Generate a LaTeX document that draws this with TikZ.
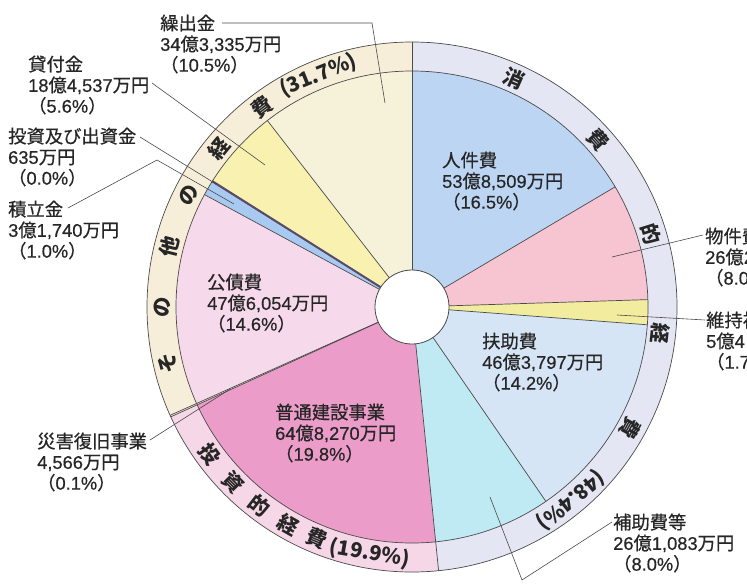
\documentclass[tikz,border=0pt]{standalone}
\usepackage{fontspec}
\newfontfamily\jp{Noto Sans CJK JP}[FakeBold=0.6]
\newfontfamily\latn{Liberation Sans}[FakeBold=0.5]
\newfontfamily\jpr{Noto Sans CJK JP}
\newcommand\J[1]{{\jp #1}}
\definecolor{cJinken}{HTML}{BCD5F3}
\definecolor{cBukken}{HTML}{F7C4D2}
\definecolor{cIji}{HTML}{F1EC9E}
\definecolor{cFujo}{HTML}{D6E5F5}
\definecolor{cHojo}{HTML}{BFEAF3}
\definecolor{cFutsu}{HTML}{EC9CC9}
\definecolor{cSaigai}{HTML}{F3E9D6}
\definecolor{cKousai}{HTML}{F6D9EA}
\definecolor{cTsumi}{HTML}{A8CAF0}
\definecolor{cKashi}{HTML}{F8F1B0}
\definecolor{cKuri}{HTML}{F6F2DA}
\definecolor{rShohi}{HTML}{E5E6F3}
\definecolor{rToushi}{HTML}{F6D7E7}
\definecolor{rSonota}{HTML}{F7EEDA}
\definecolor{cDark}{HTML}{5A4A6A}
\definecolor{cLine}{HTML}{4A4A4A}
\newcommand\mysl[3]{\fill[#3] (0,0) -- ({90-3.6*#1}:236) arc[start angle={90-3.6*#1}, end angle={90-3.6*#2}, radius=236] -- cycle;}
\newcommand\myring[3]{\fill[#3] ({90-3.6*#1}:265) arc[start angle={90-3.6*#1}, end angle={90-3.6*#2}, radius=265] -- ({90-3.6*#2}:236) arc[start angle={90-3.6*#2}, end angle={90-3.6*#1}, radius=236] -- cycle;}
\begin{document}
\begin{tikzpicture}[x=1pt,y=1pt,
  lbl/.style={font=\latn\fontsize{18.3}{20.8}\selectfont, align=left, anchor=west, inner sep=0pt, text=black!85},
  ringtxt/.style={font=\jpr\bfseries\fontsize{20.5}{20.5}\selectfont, inner sep=0pt, text=black!85},
  leader/.style={draw=cLine, line width=0.6pt},
  edgeln/.style={draw=cLine, line width=0.7pt}]
\useasboundingbox (0,0) rectangle (747,-587);
\fill[white] (0,0) rectangle (747,-587);
\begin{scope}[shift={(412,-307)}]
  % ring segments
  \myring{0}{48.4}{rShohi}
  \myring{48.4}{68.3}{rToushi}
  \myring{68.3}{100}{rSonota}
  % pie slices
  \mysl{0}{16.5}{cJinken}
  \mysl{16.5}{24.5}{cBukken}
  \mysl{24.5}{26.2}{cIji}
  \mysl{26.2}{40.4}{cFujo}
  \mysl{40.4}{48.4}{cHojo}
  \mysl{48.4}{68.2}{cFutsu}
  \mysl{68.2}{68.3}{cSaigai}
  \mysl{82.9}{83.9}{cTsumi}
  \mysl{68.3}{82.9}{cKousai}
  \mysl{83.9}{89.5}{cKashi}
  \mysl{89.5}{100}{cKuri}
  \fill[cSaigai] ({90-3.6*68.2}:236) -- ({90-3.6*68.2}:265) arc[start angle={90-3.6*68.2}, end angle={90-3.6*68.3}, radius=265] -- ({90-3.6*68.3}:236) -- cycle;
  % slice boundaries
  \foreach \c in {16.5,24.5,26.2,40.4,82.9,89.5}
    \draw[edgeln] ({90-3.6*\c}:37) -- ({90-3.6*\c}:236);
  \foreach \c in {0,48.4,68.2,68.3}
    \draw[edgeln] ({90-3.6*\c}:37) -- ({90-3.6*\c}:265);
  \draw[edgeln] ({90-3.6*83.9}:37) -- ({90-3.6*83.9}:236);
  \draw[cDark, line width=2pt] ({90-3.6*83.95}:37) -- ({90-3.6*83.95}:236);
  % circles
  \draw[edgeln] (0,0) circle[radius=236];
  \draw[edgeln] (0,0) circle[radius=265];
  \filldraw[fill=white, draw=cLine, line width=0.8pt] (0,0) circle[radius=37];
  % ring texts
  \foreach \t/\a [count=\i] in {消/24, 費/48, 的/73, 経/96, 費/119, (48.4\%)/140.6}
    \node[ringtxt, rotate=-\a] (sa\i) at ({90-\a}:250) {\t};
  \foreach \t/\a [count=\i] in {投/234, 資/225.5, 的/217.5, 経/209.6, 費/202.4, (19.9\%)/189.7}
    \node[ringtxt, rotate=180-\a] (ta\i) at ({90-\a}:250) {\t};
  \foreach \t/\a [count=\i] in {そ/257, の/270, 他/284, の/296.6, 経/309.4, 費/323, (31.7\%)/338}
    \node[ringtxt, rotate=-\a] (oa\i) at ({90-\a}:250) {\t};
  % leader end points inside slices
  \coordinate (kuriE) at (-27,204);
  \coordinate (kashiE) at (-147,142);
  \coordinate (toushiE) at ({90-3.6*83.92}:231);
  \coordinate (tsumiE) at (-178,103);
  \coordinate (saigaiE) at ({90-3.6*68.25}:200);
  \coordinate (hojoE) at (78,-190);
  \coordinate (bukkenE) at (200,50);
  \coordinate (ijiE) at (205,-8);
\end{scope}
% labels
\node[lbl] (kuri) at (160,-44) {\J{繰出金}\\34\J{億}3,335\J{万円}\\\J{（}10.5\%\J{）}};
\node[lbl] (kashi) at (28,-85) {\J{貸付金}\\18\J{億}4,537\J{万円}\\\J{（}5.6\%\J{）}};
\node[lbl] (toushi) at (8,-157) {\J{投資及び出資金}\\635\J{万円}\\\J{（}0.0\%\J{）}};
\node[lbl] (tsumi) at (8,-230) {\J{積立金}\\3\J{億}1,740\J{万円}\\\J{（}1.0\%\J{）}};
\node[lbl] (jinken) at (442,-181) {\J{人件費}\\53\J{億}8,509\J{万円}\\\J{（}16.5\%\J{）}};
\node[lbl] (bukken) at (705,-257) {\J{物件費}\\26\J{億}2\\\J{（}8.0};
\node[lbl] (iji) at (706,-341) {\J{維持補修費}\\5\J{億}4\\\J{（}1.7};
\node[lbl] (fujo) at (482,-362) {\J{扶助費}\\46\J{億}3,797\J{万円}\\\J{（}14.2\%\J{）}};
\node[lbl] (hojo) at (613,-543) {\J{補助費等}\\26\J{億}1,083\J{万円}\\\J{（}8.0\%\J{）}};
\node[lbl] (futsu) at (275,-433) {\J{普通建設事業}\\64\J{億}8,270\J{万円}\\\J{（}19.8\%\J{）}};
\node[lbl] (kousai) at (207,-303) {\J{公債費}\\47\J{億}6,054\J{万円}\\\J{（}14.6\%\J{）}};
\node[lbl] (saigai) at (37,-462) {\J{災害復旧事業}\\4,566\J{万円}\\\J{（}0.1\%\J{）}};
% leader lines
\coordinate (kuriA) at (222,-23);
\coordinate (kuriB) at (372,-23);
\draw[leader] (kuriA) -- (kuriB) -- (kuriE);
\coordinate (kashiA) at (152,-83);
\draw[leader] (kashiA) -- (kashiE);
\coordinate (toushiA) at (140,-137);
\draw[leader] (toushiA) -- (toushiE);
\coordinate (tsumiA) at (68,-208);
\coordinate (tsumiB) at (157,-160);
\draw[leader] (tsumiA) -- (tsumiB) -- (tsumiE);
\coordinate (saigaiA) at (150,-440);
\draw[leader] (saigaiA) -- (saigaiE);
\coordinate (hojoA) at (612,-522);
\coordinate (hojoB) at (522,-580);
\draw[leader] (hojoA) -- (hojoB) -- (hojoE);
\coordinate (bukkenA) at (703,-235);
\draw[leader] (bukkenA) -- (bukkenE);
\coordinate (ijiA) at (705,-320);
\draw[leader] (ijiA) -- (ijiE);
\end{tikzpicture}
\end{document}
